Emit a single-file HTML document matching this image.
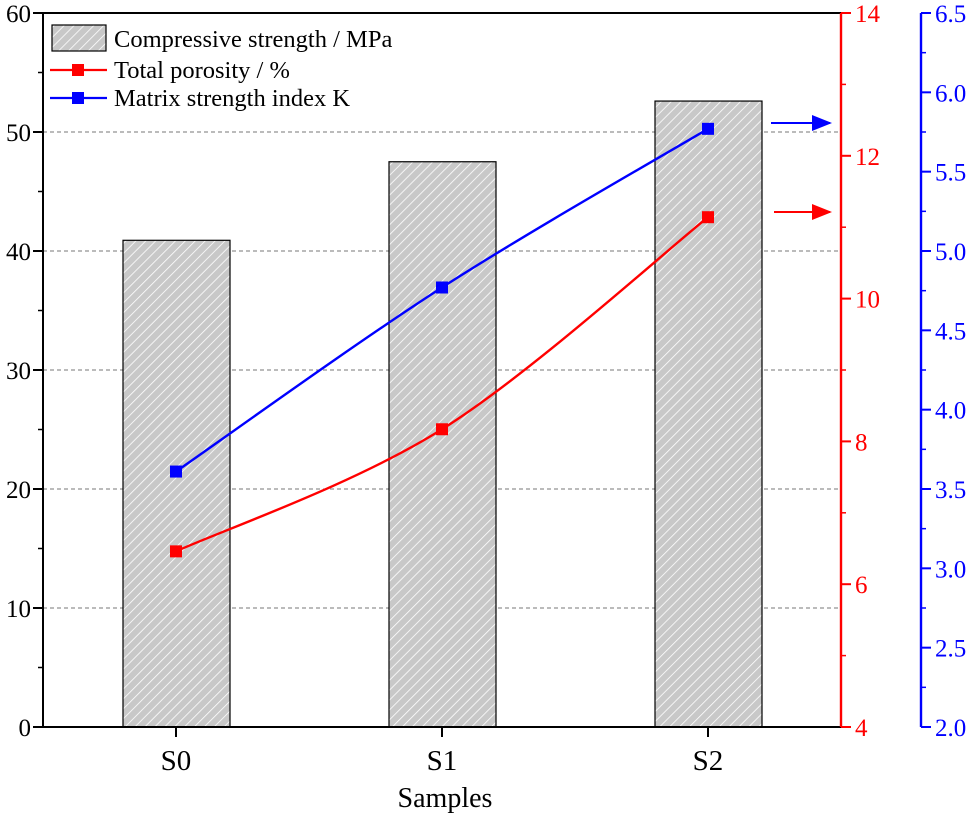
<!DOCTYPE html>
<html><head><meta charset="utf-8"><style>
body{margin:0;background:#fff}
svg{display:block;font-family:"Liberation Serif",serif}
</style></head><body>
<svg id="c" width="971" height="817">
<defs>
<pattern id="hatch" width="7" height="7" patternUnits="userSpaceOnUse" patternTransform="rotate(45)">
<rect width="7" height="7" fill="#c8c8c8"/><line x1="0" y1="0" x2="0" y2="7" stroke="#fff" stroke-width="1.6"/>
</pattern>
<marker id="ar" markerWidth="10" markerHeight="8" refX="9" refY="4" orient="auto"><path d="M0,0L10,4L0,8z" fill="red"/></marker>
<marker id="ab" markerWidth="10" markerHeight="8" refX="9" refY="4" orient="auto"><path d="M0,0L10,4L0,8z" fill="blue"/></marker>
</defs>
</svg>
<script>
const categories=["S0","S1","S2"];
const strength=[40.9,47.5,52.6];
const porosity=[6.46,8.17,11.14];
const kIndex=[3.61,4.77,5.77];
const leftTicks=[0,10,20,30,40,50,60];
const redTicks=[4,6,8,10,12,14];
const blueTicks=[2.0,2.5,3.0,3.5,4.0,4.5,5.0,5.5,6.0,6.5];

const svg=document.getElementById('c');const NS="http://www.w3.org/2000/svg";
function mk(t,a,txt){const e=document.createElementNS(NS,t);for(const k in a)e.setAttribute(k,a[k]);if(txt!=null)e.textContent=txt;svg.appendChild(e);return e;}
const L=43,R=841,T=13,B=727,BX=921;
const yL=v=>B-(v-0)/60*(B-T);
const yR=v=>B-(v-4)/10*(B-T);
const yB=v=>B-(v-2)/4.5*(B-T);
const xC=i=>176+i*266;

leftTicks.forEach(v=>{if(v>0&&v<60){const g=mk('line',{x1:L,x2:R,y1:yL(v),y2:yL(v),stroke:'#777','stroke-dasharray':'4,3'});

}});
strength.forEach((v,i)=>{const b=mk('rect',{x:xC(i)-53,y:yL(v),width:107,height:B-yL(v),fill:'url(#hatch)',stroke:'#000','stroke-width':1.2});

});
function curve(vals,yf,col,name){const p=vals.map((v,i)=>[xC(i),yf(v)]);let d='M'+p[0];
for(let i=0;i<p.length-1;i++){const p0=p[i-1]||p[i],p1=p[i],p2=p[i+1],p3=p[i+2]||p2;
const c1=[p1[0]+(p2[0]-p0[0])/6,p1[1]+(p2[1]-p0[1])/6],c2=[p2[0]-(p3[0]-p1[0])/6,p2[1]-(p3[1]-p1[1])/6];d+='C'+c1+' '+c2+' '+p2;}
const l=mk('path',{d:d,fill:'none',stroke:col,'stroke-width':2.4});


p.forEach(q=>{const m=mk('rect',{x:q[0]-6,y:q[1]-6,width:12,height:12,fill:col});

});}
curve(porosity,yR,'red','porosity');curve(kIndex,yB,'blue','k-index');
mk('line',{x1:L,x2:R,y1:T,y2:T,stroke:'#000','stroke-width':2});
mk('line',{x1:L,x2:R,y1:B,y2:B,stroke:'#000','stroke-width':2});
mk('line',{x1:L,x2:L,y1:T,y2:B,stroke:'#000','stroke-width':2});
mk('line',{x1:R,x2:R,y1:T,y2:B,stroke:'red','stroke-width':2.4});
mk('line',{x1:BX,x2:BX,y1:T,y2:B,stroke:'blue','stroke-width':2.4});
leftTicks.forEach((v,i)=>{mk('line',{x1:L-10,x2:L,y1:yL(v),y2:yL(v),stroke:'#000','stroke-width':2});
if(i<leftTicks.length-1)mk('line',{x1:L-5,x2:L,y1:yL(v+5),y2:yL(v+5),stroke:'#000','stroke-width':1.5});
const t=mk('text',{x:L-12,y:yL(v)+9,'text-anchor':'end','font-size':25},v);

});
redTicks.forEach((v,i)=>{mk('line',{x1:R,x2:R+10,y1:yR(v),y2:yR(v),stroke:'red','stroke-width':2});
if(i<redTicks.length-1)mk('line',{x1:R,x2:R+5,y1:yR(v+1),y2:yR(v+1),stroke:'red','stroke-width':1.5});
const t=mk('text',{x:R+14,y:yR(v)+9,fill:'red','font-size':25},v);

});
blueTicks.forEach((v,i)=>{mk('line',{x1:BX,x2:BX+10,y1:yB(v),y2:yB(v),stroke:'blue','stroke-width':2});
if(i<blueTicks.length-1)mk('line',{x1:BX,x2:BX+5,y1:yB(v+0.25),y2:yB(v+0.25),stroke:'blue','stroke-width':1.5});
const t=mk('text',{x:BX+14,y:yB(v)+9,fill:'blue','font-size':25},v.toFixed(1));

});
categories.forEach((c,i)=>{mk('line',{x1:xC(i),x2:xC(i),y1:B,y2:B+10,stroke:'#000','stroke-width':2});
const t=mk('text',{x:xC(i),y:770,'text-anchor':'middle','font-size':29},c);

});
const xt=mk('text',{x:445,y:807,'text-anchor':'middle','font-size':28},'Samples');


mk('line',{x1:771,x2:830,y1:123,y2:123,stroke:'blue','stroke-width':2,'marker-end':'url(#ab)'});
mk('line',{x1:774,x2:830,y1:212,y2:212,stroke:'red','stroke-width':2,'marker-end':'url(#ar)'});
mk('rect',{x:52,y:25,width:54,height:26,fill:'url(#hatch)',stroke:'#000','stroke-width':1.2});
mk('text',{x:114,y:47,'font-size':24.5},'Compressive strength / MPa');
mk('line',{x1:50,x2:107,y1:70,y2:70,stroke:'red','stroke-width':2.2});
mk('rect',{x:72,y:64,width:12,height:12,fill:'red'});
mk('text',{x:114,y:78,'font-size':24.5},'Total porosity / %');
mk('line',{x1:50,x2:107,y1:98,y2:98,stroke:'blue','stroke-width':2.2});
mk('rect',{x:72,y:92,width:12,height:12,fill:'blue'});
mk('text',{x:114,y:106,'font-size':24.5},'Matrix strength index K');
</script>
</body></html>
